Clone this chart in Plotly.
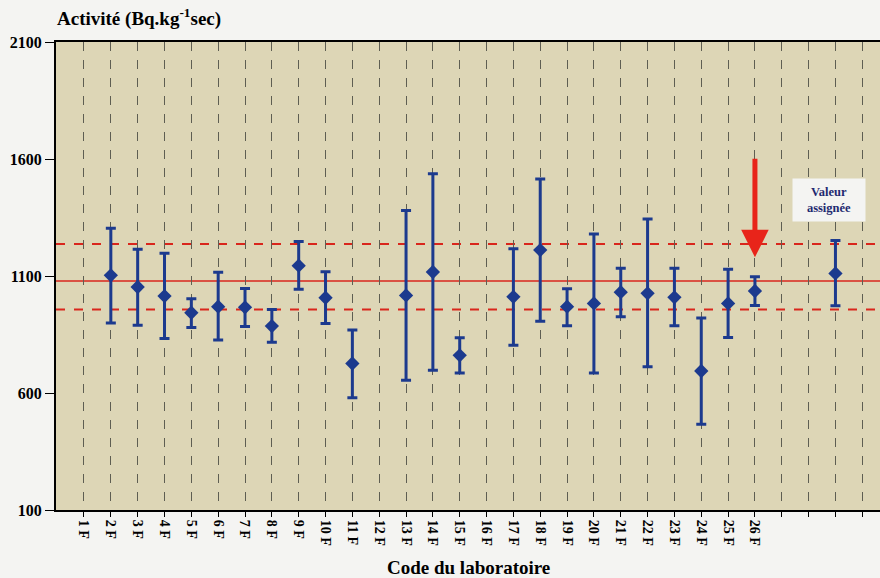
import plotly.graph_objects as go

# ---- data ----
lab_codes = [f"{i} F" for i in range(1, 27)]
lab_positions = list(range(1, 27))
lab_value = [None, 1103, 1053, 1014, 943, 969, 966, 886, 1144, 1007, 726, None, 1017, 1117,
             761, None, 1011, 1211, 969, 983, 1031, 1026, 1009, 694, 983, 1036]
lab_low = [None, 899, 890, 833, 880, 826, 884, 817, 1043, 897, 580, None, 654, 697,
           685, None, 804, 907, 887, 685, 926, 712, 887, 466, 837, 974]
lab_high = [None, 1304, 1214, 1197, 1003, 1116, 1047, 957, 1247, 1118, 869, None, 1380, 1537,
            836, None, 1216, 1514, 1046, 1280, 1133, 1344, 1133, 921, 1129, 1097]

assigned_position = 29
assigned_value = 1111
assigned_low = 973
assigned_high = 1252

ref_line = 1079
ref_upper = 1237
ref_lower = 957

highlight_lab = 26
arrow_tip = 1180
arrow_tail = 1607

y_ticks = [100, 600, 1100, 1600, 2100]
x_ticks = list(range(1, 31))

# ---- styling ----
BLUE = "#1c3a8e"
RED = "#d9261c"
SERIF = "'Liberation Serif', 'Times New Roman', 'DejaVu Serif', serif"

plus = [None if v is None else h - v for v, h in zip(lab_value, lab_high)]
minus = [None if v is None else v - l for v, l in zip(lab_value, lab_low)]

fig = go.Figure()
fig.add_trace(go.Scatter(
    x=lab_positions, y=lab_value, mode="markers",
    marker=dict(symbol="diamond", size=11, color=BLUE),
    error_y=dict(type="data", symmetric=False, array=plus, arrayminus=minus,
                 color=BLUE, thickness=3, width=5),
    showlegend=False, hoverinfo="skip",
))
fig.add_trace(go.Scatter(
    x=[assigned_position], y=[assigned_value], mode="markers",
    marker=dict(symbol="diamond", size=11, color=BLUE),
    error_y=dict(type="data", symmetric=False, array=[assigned_high - assigned_value],
                 arrayminus=[assigned_value - assigned_low],
                 color=BLUE, thickness=3, width=5),
    showlegend=False, hoverinfo="skip",
))

# reference lines
fig.add_hline(y=ref_line, line=dict(color=RED, width=1.5), layer="below")
fig.add_hline(y=ref_upper, line=dict(color=RED, width=2, dash="dash"), layer="below")
fig.add_hline(y=ref_lower, line=dict(color=RED, width=2, dash="dash"), layer="below")

# red arrow on lab 26
fig.add_annotation(
    x=highlight_lab, y=arrow_tip, ax=highlight_lab, ay=arrow_tail,
    xref="x", yref="y", axref="x", ayref="y",
    showarrow=True, arrowhead=2, arrowsize=1.1, arrowwidth=5, arrowcolor="#e8241a",
    text="",
)

# assigned value box
fig.add_annotation(
    x=28.75, y=1423, xref="x", yref="y",
    text="Valeur<br>assignée", showarrow=False,
    font=dict(family=SERIF, size=12.5, color="#1f2a70", weight="bold"),
    bgcolor="#f4f4f2", width=70, height=40, borderpad=1,
)

# x-axis title
fig.add_annotation(
    x=0.5, y=-0.122, xref="paper", yref="paper", yanchor="middle",
    text="Code du laboratoire", showarrow=False,
    font=dict(family=SERIF, size=19, color="black", weight="bold"),
)

fig.update_layout(
    width=880, height=578,
    margin=dict(l=56, r=0, t=42, b=68),
    paper_bgcolor="#f4f4f2",
    plot_bgcolor="#ddd6b6",
    font=dict(family=SERIF),
    title=dict(
        text="Activité (Bq.kg<sup>-1</sup>sec)",
        x=57 / 880, xanchor="left", xref="container",
        y=1 - 18 / 578, yanchor="middle", yref="container",
        font=dict(family=SERIF, size=19, color="black", weight="bold"),
    ),
    xaxis=dict(
        range=[-0.043, 30.66],
        tickmode="array", tickvals=x_ticks,
        ticktext=lab_codes + [""] * (len(x_ticks) - len(lab_codes)),
        tickangle=90,
        tickfont=dict(family=SERIF, size=14, color="black", weight="bold"),
        ticks="outside", ticklen=5, tickcolor="black", tickwidth=1,
        showgrid=True, gridcolor="#5e5e52", gridwidth=1, griddash="dash",
        showline=True, linecolor="black", linewidth=2, mirror=True,
        zeroline=False,
    ),
    yaxis=dict(
        range=[100, 2100],
        tickmode="array", tickvals=y_ticks,
        tickfont=dict(family=SERIF, size=16, color="black", weight="bold"),
        ticks="outside", ticklen=9, tickcolor="black", tickwidth=1,
        showgrid=False, zeroline=False,
        showline=True, linecolor="black", linewidth=2,
    ),
)

fig.write_html(
    "out.html",
    config={"displayModeBar": False},
    post_script="document.body.style.margin='0';document.body.style.padding='0';"
                "document.body.style.overflow='hidden';",
)
